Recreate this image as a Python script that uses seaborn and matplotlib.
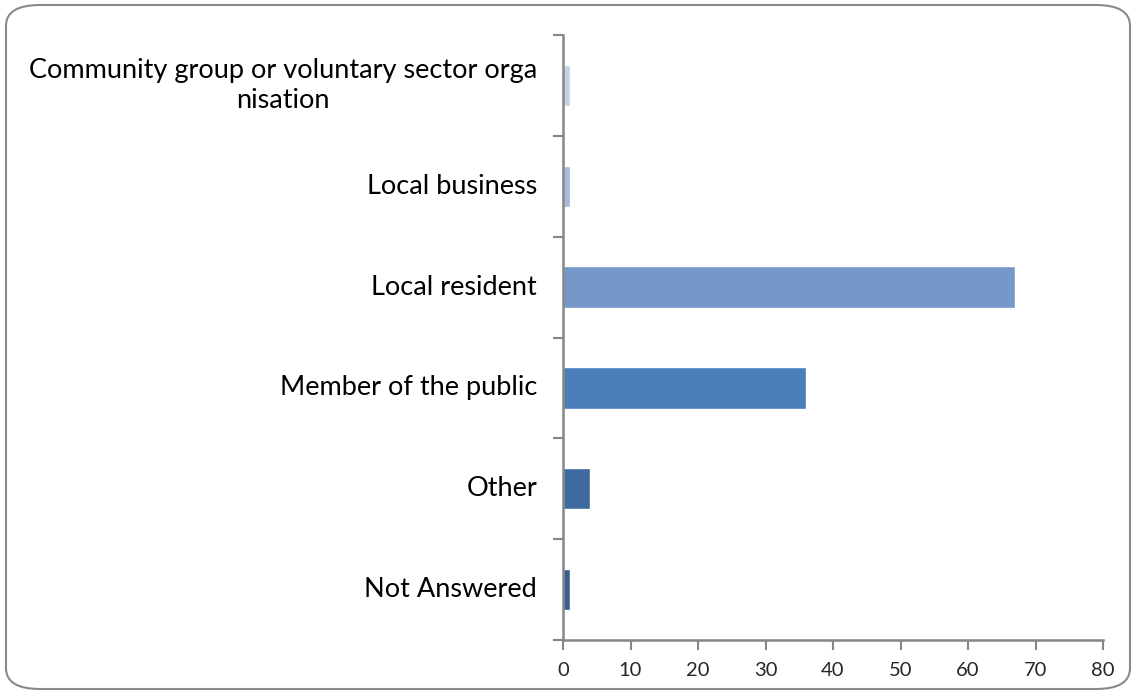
import matplotlib
matplotlib.use("Agg")
import matplotlib.pyplot as plt
import seaborn as sns
import pandas as pd
from matplotlib.patches import FancyBboxPatch

categories = ["Community group or voluntary sector orga\nnisation",
              "Local business", "Local resident", "Member of the public",
              "Other", "Not Answered"]
values = [1, 1, 67, 36, 4, 1]
colors = ["#c5d1e7", "#a6badd", "#7597c9", "#4a7ebb", "#3f6aa0", "#3b5e91"]
xticks = [0, 10, 20, 30, 40, 50, 60, 70, 80]

sns.set_style("white")
plt.rcParams['font.family'] = ['Lato', 'DejaVu Sans']

df = pd.DataFrame({"cat": categories, "val": values})

fig = plt.figure(figsize=(11.36, 6.93), dpi=100)
ax = fig.add_axes([563/1136, 1 - 640/693, (1103 - 563)/1136, (640 - 35)/693])

sns.barplot(data=df, y="cat", x="val", hue="cat", palette=colors,
            legend=False, width=0.41, ax=ax, saturation=1, orient="h")

ax.set_xlim(0, 80)
ax.set_ylim(len(categories) - 0.5, -0.5)
ax.set_xticks(xticks)
ax.set_xticklabels([str(t) for t in xticks], fontsize=14.5)
ax.set_yticks([i - 0.5 for i in range(len(categories) + 1)], minor=False)
ax.set_yticklabels([])
for i, c in enumerate(categories):
    ax.text(-0.048, i, c, transform=ax.get_yaxis_transform(), ha="right",
            va="center", multialignment="center", fontsize=19.5,
            linespacing=1.22, color="black")
ax.set_xlabel("")
ax.set_ylabel("")
for s in ["top", "right"]:
    ax.spines[s].set_visible(False)
for s in ["left", "bottom"]:
    ax.spines[s].set_color("#868686")
    ax.spines[s].set_linewidth(1.8)
ax.tick_params(axis="both", direction="out", length=7, width=1.5, color="#868686",
               left=True, bottom=True)
ax.tick_params(axis="x", pad=9)
ax.grid(False)

border = FancyBboxPatch((6/1136, 4/693), (1130 - 6)/1136, (688 - 4)/693,
                        boxstyle="round,pad=0,rounding_size=0.03",
                        transform=fig.transFigure, fill=False,
                        edgecolor="#8a8a8a", linewidth=1.5, clip_on=False)
fig.patches.append(border)

fig.savefig("out.png", dpi=100)
